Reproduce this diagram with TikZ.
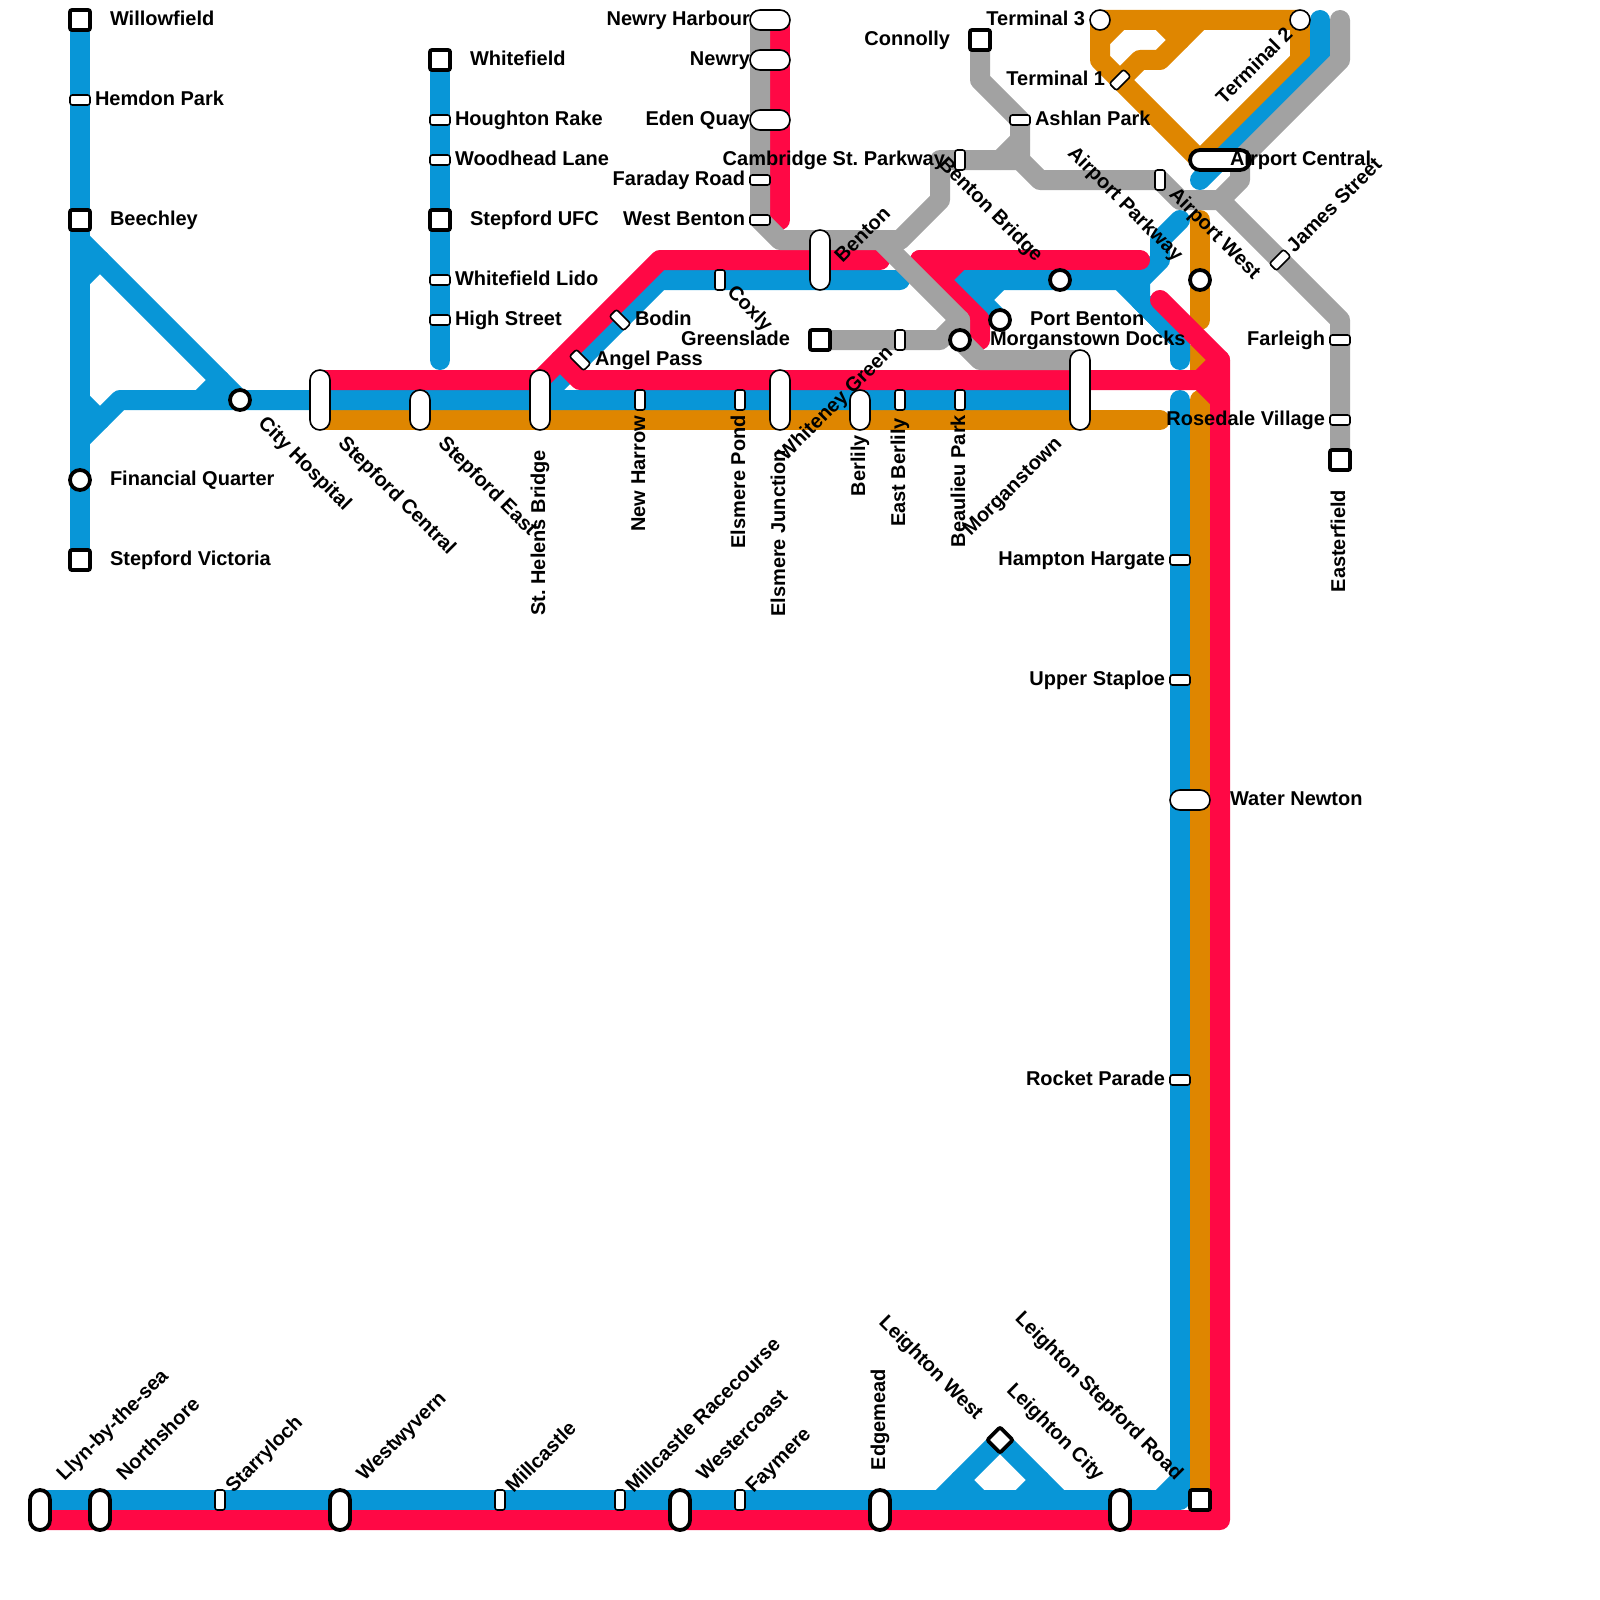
\documentclass[tikz,border=0pt]{standalone}
\usepackage{fontspec}
\setmainfont{Liberation Sans}
\usetikzlibrary{backgrounds}
\definecolor{cblue}{HTML}{0896D7}
\definecolor{cred}{HTML}{FF0845}
\definecolor{corange}{HTML}{DF8600}
\definecolor{cgray}{HTML}{A2A2A2}
\tikzset{
  tube/.style={line width=10pt,line cap=round,line join=round},
  blueline/.style={tube,draw=cblue},
  redline/.style={tube,draw=cred},
  orangeline/.style={tube,draw=corange},
  grayline/.style={tube,draw=cgray},
  stn/.style={draw=black,fill=white,inner sep=0pt,outer sep=0pt,shape=rectangle},
  thinb/.style={line width=0.8pt},
  thickb/.style={line width=1.9pt},
  sq/.style={stn,thickb,minimum width=10pt,minimum height=10pt,rounded corners=1pt},
  dmd/.style={sq,minimum width=9pt,minimum height=9pt,rotate=45},
  ring/.style={stn,thickb,shape=circle,minimum size=10pt},
  ringthin/.style={stn,thinb,shape=circle,minimum size=10pt},
  rh/.style={stn,thinb,minimum width=10pt,minimum height=5pt,rounded corners=1.2pt},
  rv/.style={stn,thinb,minimum width=5pt,minimum height=10pt,rounded corners=1.2pt},
  pillv/.style={stn,thinb,minimum width=10pt,rounded corners=4.99pt},
  pillh/.style={stn,thinb,minimum height=10pt,rounded corners=4.99pt},
  lab/.style={inner sep=0pt,outer sep=0pt,text height=7.2pt,text depth=2.0pt,font=\bfseries\fontsize{10}{12}\selectfont\frenchspacing,text=black},
}
\begin{document}
\begin{tikzpicture}[x=0.5pt,y=-0.5pt]
\useasboundingbox (0,0) rectangle (1600,1600);
% stations
\node[sq] (willowfield) at (80,20) {};
\node[rh] (hemdon) at (80,100) {};
\node[sq] (beechley) at (80,220) {};
\node[ring] (financial) at (80,480) {};
\node[sq] (stepvic) at (80,560) {};
\node[ring] (cityhosp) at (240,400) {};
\node[pillv,minimum height=30pt] (stepcentral) at (320,400) {};
\node[pillv,minimum height=20pt] (stepeast) at (420,410) {};
\node[pillv,minimum height=30pt] (sthelens) at (540,400) {};
\node[rv] (newharrow) at (640,400) {};
\node[rv] (elsmerepond) at (740,400) {};
\node[pillv,minimum height=30pt] (elsmerejn) at (780,400) {};
\node[rv] (whiteney) at (900,340) {};
\node[pillv,minimum height=20pt] (berlily) at (860,410) {};
\node[rv] (eastberlily) at (900,400) {};
\node[rv] (beaulieu) at (960,400) {};
\node[pillv,minimum height=40pt] (morganstown) at (1080,390) {};
\node[sq] (greenslade) at (820,340) {};
\node[ring] (mdocks) at (960,340) {};
\node[ring] (portbenton) at (1000,320) {};
\node[ring] (bentonbridge) at (1060,280) {};
\node[rv] (coxly) at (720,280) {};
\node[pillv,minimum height=30pt] (benton) at (820,260) {};
\node[pillh,minimum width=20pt] (newryharbour) at (770,20) {};
\node[pillh,minimum width=20pt] (newry) at (770,60) {};
\node[pillh,minimum width=20pt] (edenquay) at (770,120) {};
\node[rh] (faraday) at (760,180) {};
\node[rh] (westbenton) at (760,220) {};
\node[rv] (cambridge) at (960,160) {};
\node[sq] (connolly) at (980,40) {};
\node[rh] (ashlan) at (1020,120) {};
\node[ringthin] (terminal3) at (1100,20) {};
\node[ringthin] (terminal2) at (1300,20) {};
\node[rh,rotate=45] (terminal1) at (1120,80) {};
\node[pillh,thickb,minimum width=30pt] (airportcentral) at (1220,160) {};
\node[rv] (airportwest) at (1160,180) {};
\node[ring] (airportparkway) at (1200,280) {};
\node[rh,rotate=45] (jamesstreet) at (1280,260) {};
\node[rh] (farleigh) at (1340,340) {};
\node[rh] (rosedale) at (1340,420) {};
\node[sq] (easterfield) at (1340,460) {};
\node[sq] (whitefield) at (440,60) {};
\node[rh] (houghton) at (440,120) {};
\node[rh] (woodhead) at (440,160) {};
\node[sq] (stepufc) at (440,220) {};
\node[rh] (wlido) at (440,280) {};
\node[rh] (highstreet) at (440,320) {};
\node[rh,rotate=-45] (bodin) at (620,320) {};
\node[rh,rotate=-45] (angelpass) at (580,360) {};
\node[rh] (hampton) at (1180,560) {};
\node[rh] (upperstaploe) at (1180,680) {};
\node[pillh,minimum width=20pt] (waternewton) at (1190,800) {};
\node[rh] (rocket) at (1180,1080) {};
\node[sq] (leightonsr) at (1200,1500) {};
\node[pillv,thickb,minimum height=20pt] (leightoncity) at (1120,1510) {};
\node[dmd] (leightonwest) at (1000,1440) {};
\node[pillv,thickb,minimum height=20pt] (edgemead) at (880,1510) {};
\node[rv] (faymere) at (740,1500) {};
\node[pillv,thickb,minimum height=20pt] (westercoast) at (680,1510) {};
\node[rv] (mracecourse) at (620,1500) {};
\node[rv] (millcastle) at (500,1500) {};
\node[pillv,thickb,minimum height=20pt] (westwyvern) at (340,1510) {};
\node[rv] (starryloch) at (220,1500) {};
\node[pillv,thickb,minimum height=20pt] (northshore) at (100,1510) {};
\node[pillv,thickb,minimum height=20pt] (llyn) at (40,1510) {};
% free ends
\coordinate (bwest) at (40,1500);
\coordinate (rwest) at (40,1520);
\coordinate (bmain) at (1080,400);
\coordinate (bwhite) at (440,360);
\coordinate (bcoxly) at (900,280);
\coordinate (bapark) at (1180,220);
\coordinate (bdock) at (1180,360);
\coordinate (btop) at (1320,20);
\coordinate (bac) at (1200,180);
\coordinate (bsouth) at (1180,400);
\coordinate (ored) at (1160,420);
\coordinate (otop) at (1200,220);
\coordinate (oend) at (1200,320);
\coordinate (osouth) at (1200,400);
\coordinate (rstart) at (320,380);
\coordinate (rbenton) at (880,260);
\coordinate (rsplit) at (920,260);
\coordinate (rpark) at (1140,260);
\coordinate (rdock) at (980,340);
\coordinate (rnewry) at (780,20);
\coordinate (reden) at (780,220);
\coordinate (rcross) at (1160,300);
\coordinate (gnewry) at (760,20);
\coordinate (gtop) at (1340,20);
\coordinate (gmor) at (1080,360);
\begin{scope}[on background layer]
% orange
\draw[orangeline] (terminal3.center) -- (terminal2.center) -- (1300,60) -- (1200,160) -- (1100,60) -- cycle;
\draw[orangeline] (1100,40) -- (1120,20);
\draw[orangeline] (1160,20) -- (1180,40);
\draw[orangeline] (terminal1.center) -- (1140,60) -- (1160,60) -- (1200,20);
\draw[orangeline] (stepcentral.center |- ored) -- (ored);
\draw[orangeline] (otop) -- (oend);
\draw[orangeline,line cap=butt] (1200,345) -- (1200,372);
\draw[orangeline] (osouth) -- (leightonsr.center);
% blue
\draw[blueline] (willowfield.center) -- (stepvic.center);
\draw[blueline] (80,240) -- (cityhosp.center);
\draw[blueline] (80,280) -- (100,260);
\draw[blueline] (80,400) -- (100,420);
\draw[blueline] (80,440) -- (120,400) -- (bmain);
\draw[blueline] (220,380) -- (200,400);
\draw[blueline] (whitefield.center) -- (bwhite);
\draw[blueline] (540,400) -- (660,280) -- (bcoxly);
\draw[blueline] (960,280) -- (1140,280) -- (1140,300) -- (1180,340) -- (bdock);
\draw[blueline] (1120,280) -- (1180,340);
\draw[blueline] (960,280) -- (portbenton.center);
\draw[blueline] (1000,280) -- (980,300);
\draw[blueline] (1140,280) -- (1160,260) -- (1160,240) -- (bapark);
\draw[blueline] (bsouth) -- (1180,1500) -- (bwest);
\draw[blueline] (1180,1480) -- (1160,1500);
\draw[blueline] (940,1500) -- (leightonwest.center) -- (1060,1500);
\draw[blueline] (960,1480) -- (980,1500);
\draw[blueline] (1040,1480) -- (1020,1500);
\draw[blueline] (btop) -- (1320,60) -- (bac);
% red
\draw[redline] (rnewry) -- (reden);
\draw[redline] (rstart) -- (540,380) -- (660,260) -- (rbenton);
\draw[redline] (560,360) -- (580,380) -- (1200,380) -- (1220,360);
\draw[redline] (1200,380) -- (1220,400);
\draw[redline] (rsplit) -- (rpark);
\draw[redline] (rsplit) -- (980,320) -- (rdock);
\draw[redline] (940,280) -- (960,260);
\draw[redline] (rcross) -- (1220,360) -- (1220,1520) -- (rwest);
% gray
\draw[grayline] (gnewry) -- (760,220) -- (780,240) -- (900,240) -- (940,200) -- (940,160) -- (1020,160);
\draw[grayline] (1000,160) -- (1020,140);
\draw[grayline] (connolly.center) -- (980,80) -- (1020,120) -- (1020,160) -- (1040,180) -- (1160,180) -- (1180,200) -- (1220,200) -- (1340,320) -- (easterfield.center);
\draw[grayline] (gtop) -- (1340,60) -- (1240,160) -- (1240,180) -- (1220,200);
\draw[grayline] (880,240) -- (960,320) -- (960,340) -- (980,360) -- (gmor);
\draw[grayline] (greenslade.center) -- (940,340) -- (960,320);
\end{scope}
% labels
\node[lab,anchor=west] (t1) at (110,20) {Willowfield};
\node[lab,anchor=west] (t2) at (95,100) {Hemdon Park};
\node[lab,anchor=west] (t3) at (110,220) {Beechley};
\node[lab,anchor=west] (t4) at (110,480) {Financial Quarter};
\node[lab,anchor=west] (t5) at (110,560) {Stepford Victoria};
\node[lab,anchor=west,rotate=-45] (t6) at (261,421) {City Hospital};
\node[lab,anchor=west,rotate=-45] (t7) at (341,441) {Stepford Central};
\node[lab,anchor=west,rotate=-45] (t8) at (441,441) {Stepford East};
\node[lab,anchor=east,rotate=90] (t9) at (540,450) {St. Helens Bridge};
\node[lab,anchor=east,rotate=90] (t10) at (640,416) {New Harrow};
\node[lab,anchor=east,rotate=90] (t11) at (740,415) {Elsmere Pond};
\node[lab,anchor=east,rotate=90] (t12) at (780,450) {Elsmere Junction};
\node[lab,anchor=east,rotate=45] (t13) at (890,350) {Whiteney Green};
\node[lab,anchor=east,rotate=90] (t14) at (860,435) {Berlily};
\node[lab,anchor=east,rotate=90] (t15) at (900,418) {East Berlily};
\node[lab,anchor=east,rotate=90] (t16) at (960,415) {Beaulieu Park};
\node[lab,anchor=east,rotate=45] (t17) at (1059,441) {Morganstown};
\node[lab,anchor=east] (t18) at (790,340) {Greenslade};
\node[lab,anchor=west] (t19) at (990,340) {Morganstown Docks};
\node[lab,anchor=west] (t20) at (1030,320) {Port Benton};
\node[lab,anchor=east,rotate=-45] (t21) at (1039,259) {Benton Bridge};
\node[lab,anchor=west,rotate=-45] (t22) at (730,290) {Coxly};
\node[lab,anchor=west,rotate=45] (t23) at (839,260) {Benton};
\node[lab,anchor=east] (t24) at (750,20) {Newry Harbour};
\node[lab,anchor=east] (t25) at (750,60) {Newry};
\node[lab,anchor=east] (t26) at (750,120) {Eden Quay};
\node[lab,anchor=east] (t27) at (745,180) {Faraday Road};
\node[lab,anchor=east] (t28) at (745,220) {West Benton};
\node[lab,anchor=east] (t29) at (945,160) {Cambridge St. Parkway};
\node[lab,anchor=east] (t30) at (950,40) {Connolly};
\node[lab,anchor=west] (t31) at (1035,120) {Ashlan Park};
\node[lab,anchor=east] (t32) at (1085,20) {Terminal 3};
\node[lab,anchor=east,rotate=45] (t33) at (1290,32) {Terminal 2};
\node[lab,anchor=east] (t34) at (1105,80) {Terminal 1};
\node[lab,anchor=west] (t35) at (1230,160) {Airport Central};
\node[lab,anchor=west,rotate=-45] (t36) at (1172,192) {Airport West};
\node[lab,anchor=east,rotate=-45] (t37) at (1179,259) {Airport Parkway};
\node[lab,anchor=west,rotate=45] (t38) at (1291,250) {James Street};
\node[lab,anchor=east] (t39) at (1325,340) {Farleigh};
\node[lab,anchor=east] (t40) at (1325,420) {Rosedale Village};
\node[lab,anchor=east,rotate=90] (t41) at (1340,490) {Easterfield};
\node[lab,anchor=west] (t42) at (470,60) {Whitefield};
\node[lab,anchor=west] (t43) at (455,120) {Houghton Rake};
\node[lab,anchor=west] (t44) at (455,160) {Woodhead Lane};
\node[lab,anchor=west] (t45) at (470,220) {Stepford UFC};
\node[lab,anchor=west] (t46) at (455,280) {Whitefield Lido};
\node[lab,anchor=west] (t47) at (455,320) {High Street};
\node[lab,anchor=west] (t48) at (635,320) {Bodin};
\node[lab,anchor=west] (t49) at (595,360) {Angel Pass};
\node[lab,anchor=east] (t50) at (1165,560) {Hampton Hargate};
\node[lab,anchor=east] (t51) at (1165,680) {Upper Staploe};
\node[lab,anchor=west] (t52) at (1230,800) {Water Newton};
\node[lab,anchor=east] (t53) at (1165,1080) {Rocket Parade};
\node[lab,anchor=east,rotate=-45] (t54) at (1179,1477) {Leighton Stepford Road};
\node[lab,anchor=east,rotate=-45] (t55) at (1100,1478) {Leighton City};
\node[lab,anchor=east,rotate=-45] (t56) at (979,1417) {Leighton West};
\node[lab,anchor=west,rotate=90] (t57) at (880,1470) {Edgemead};
\node[lab,anchor=west,rotate=45] (t58) at (750,1490) {Faymere};
\node[lab,anchor=west,rotate=45] (t59) at (701,1478) {Westercoast};
\node[lab,anchor=west,rotate=45] (t60) at (630,1490) {Millcastle Racecourse};
\node[lab,anchor=west,rotate=45] (t61) at (510,1490) {Millcastle};
\node[lab,anchor=west,rotate=45] (t62) at (361,1478) {Westwyvern};
\node[lab,anchor=west,rotate=45] (t63) at (230,1490) {Starryloch};
\node[lab,anchor=west,rotate=45] (t64) at (121,1478) {Northshore};
\node[lab,anchor=west,rotate=45] (t65) at (61,1478) {Llyn-by-the-sea};
\end{tikzpicture}
\end{document}
